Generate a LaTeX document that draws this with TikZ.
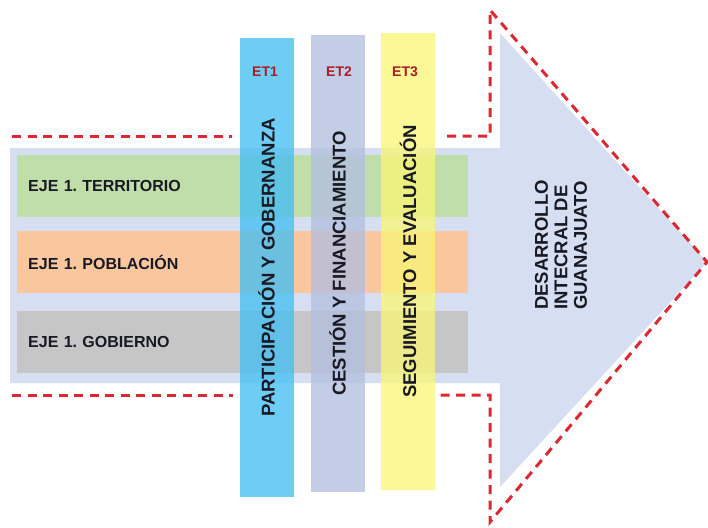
\documentclass[tikz,border=0pt]{standalone}
\usepackage{fontspec}
\setmainfont{Liberation Sans}
\frenchspacing

\definecolor{bodyblue}{RGB}{214,223,241}
\definecolor{bandgreen}{RGB}{192,222,170}
\definecolor{bandorange}{RGB}{250,198,158}
\definecolor{bandgray}{RGB}{198,198,198}
\definecolor{colblue}{RGB}{69,191,242}
\definecolor{colgray}{RGB}{179,191,223}
\definecolor{colyellow}{RGB}{249,245,120}
\definecolor{txtdark}{RGB}{25,25,35}
\definecolor{etred}{RGB}{170,30,40}
\definecolor{dashred}{RGB}{220,40,50}

\begin{document}
\begin{tikzpicture}[x=1pt,y=-1pt,
	bandbox/.style={anchor=west, minimum height=62pt, text width=429pt, align=left, inner xsep=11pt, font=\bfseries\fontsize{16}{18}\selectfont, text=txtdark},
	colbox/.style={rotate=90, minimum height=54pt, fill opacity=0.78, text opacity=1, font=\bfseries\fontsize{18.5}{20}\selectfont, text=txtdark},
	etlabel/.style={font=\bfseries\fontsize{14}{16}\selectfont, text=etred},
	dashline/.style={draw=dashred, line width=3pt, dash pattern=on 9pt off 6.5pt}]
		\useasboundingbox (0,0) rectangle (708,527);
		% Arrow body:
		\fill[bodyblue] (10,148) -- (500,148) -- (500,33) -- (707,262) -- (500,487) -- (500,383) -- (10,383) -- cycle;
		% Axes (bands):
		\node[bandbox, fill=bandgreen] (territorio) at (17,186){EJE 1. TERRITORIO};
		\node[bandbox, fill=bandorange] (poblacion) at (17,262){EJE 1. POBLACIÓN};
		\node[bandbox, fill=bandgray] (gobierno) at (17,342){EJE 1. GOBIERNO};
		% Transversal columns:
		\node[colbox, fill=colblue, minimum width=459pt] (gobernanza) at (266.5,267.5){PARTICIPACIÓN Y GOBERNANZA};
		\node[colbox, fill=colgray, minimum width=457pt] (financiamiento) at (337.5,263.5){CESTIÓN Y FINANCIAMIENTO};
		\node[colbox, fill=colyellow, minimum width=457pt] (evaluacion) at (408,261.5){SEGUIMIENTO Y EVALUACIÓN};
		\node[etlabel] (et1) at (265,72){ET1};
		\node[etlabel] (et2) at (339,72){ET2};
		\node[etlabel] (et3) at (405,72){ET3};
		% Arrow head text:
		\node[rotate=90, align=left, text=txtdark, font=\bfseries\fontsize{18.5}{19.5}\selectfont] (desarrollo) at (561,245){DESARROLLO\\INTECRAL DE\\GUANAJUATO};
		% Dashed outline:
		\draw[dashline] (12,136) -- (232,136);
		\draw[dashline] (447,136) -- (490,136) -- (490,10) -- (707,262) -- (490,522) -- (490,395) -- (440,395);
		\draw[dashline] (12,395) -- (233,395);
	\end{tikzpicture}
\end{document}
